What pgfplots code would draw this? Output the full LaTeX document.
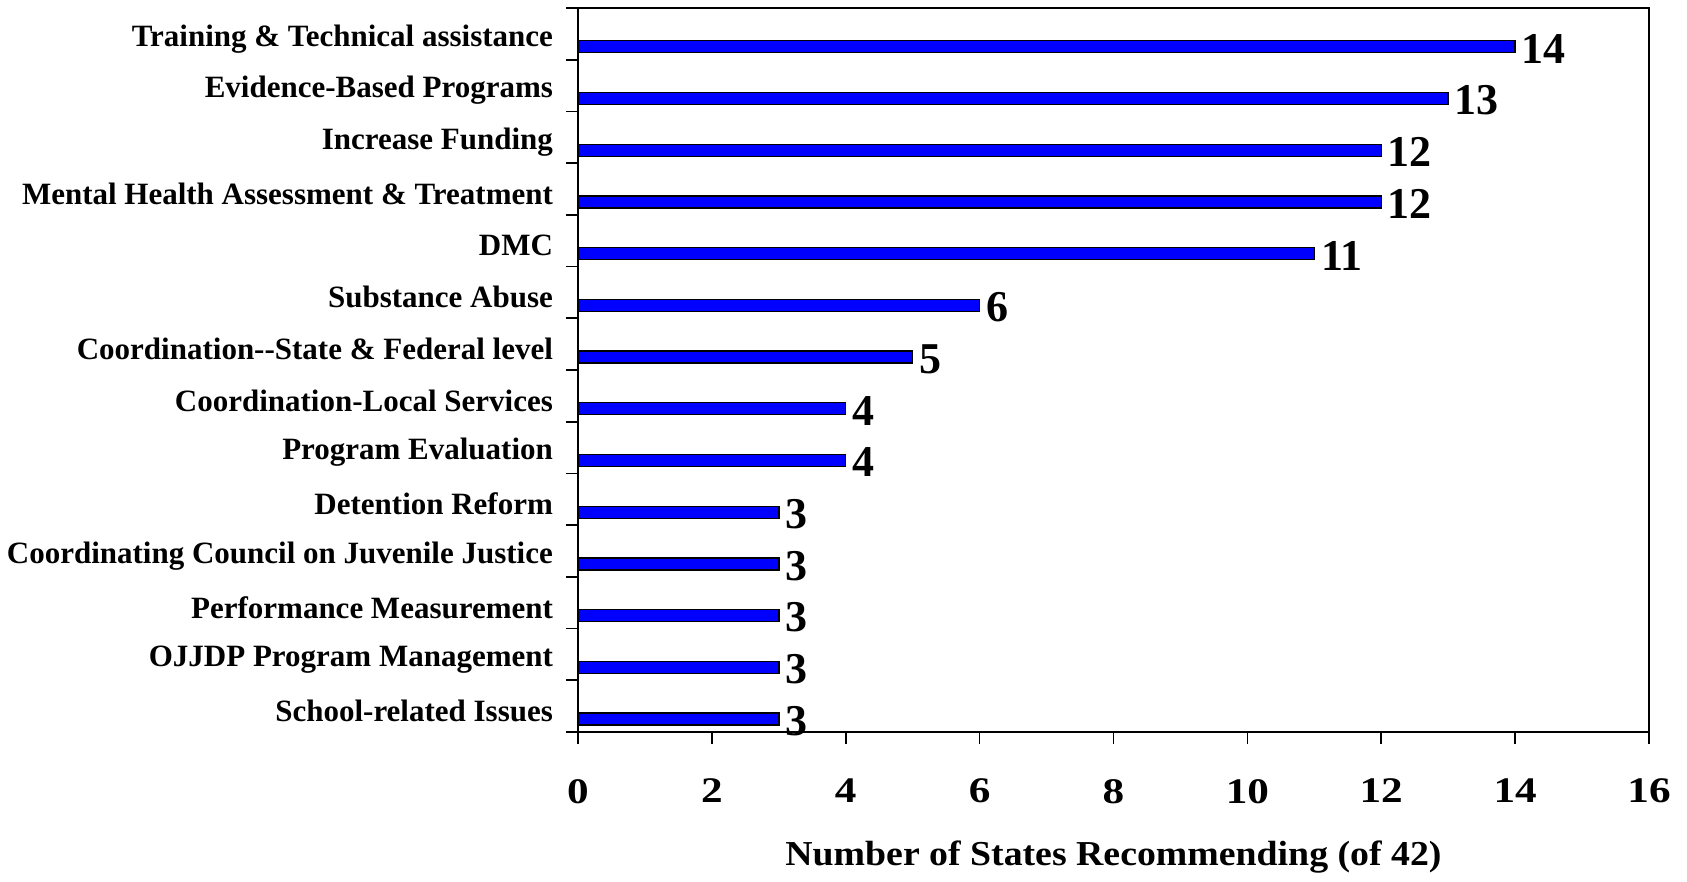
\documentclass[border=0pt]{standalone}
\usepackage{fontspec}
\setmainfont{Liberation Serif}
\newfontfamily\widefont[FakeStretch=1.2]{Liberation Serif}
\newfontfamily\titlefont[FakeStretch=1.08]{Liberation Serif}
\usepackage{pgfplots}
\pgfplotsset{compat=1.18}

\pgfplotstableread{
val pos
14 0.75
13 1.75
12 2.75
12 3.75
11 4.75
6 5.75
5 6.75
4 7.75
4 8.75
3 9.75
3 10.75
3 11.75
3 12.75
3 13.75
}\recs

\begin{document}
\begin{tikzpicture}
\begin{axis}[
    name=ax,
    scale only axis,
    width=535.5pt, height=362pt,
    xbar, bar width=6pt, bar shift=0pt,
    xmin=0, xmax=16,
    ymin=0, ymax=14, y dir=reverse,
    xtick={0,2,...,16},
    ytick={1,...,14},
    yticklabels={
        Training \& Technical assistance,
        Evidence-Based Programs,
        Increase Funding,
        Mental Health Assessment \& Treatment,
        DMC,
        Substance Abuse,
        Coordination-{}-State \& Federal level,
        Coordination-Local Services,
        Program Evaluation,
        Detention Reform,
        Coordinating Council on Juvenile Justice,
        Performance Measurement,
        OJJDP Program Management,
        School-related Issues},
    extra y ticks={0},
    extra y tick labels={},
    xtick pos=bottom, ytick pos=left,
    tick align=outside,
    major tick length=6pt,
    axis line style={line width=0.8pt},
    tick style={line width=0.8pt, black},
    /pgf/number format/assume math mode=true,
    yticklabel style={font=\fontsize{15.5}{17}\selectfont\bfseries, yshift=10.5pt, xshift=-3pt},
    xticklabel style={font=\widefont\fontsize{18}{20}\selectfont\bfseries, yshift=-14pt},
    xlabel={Number of States Recommending (of 42)},
    xlabel style={font=\titlefont\fontsize{17.5}{19}\selectfont\bfseries, yshift=-12pt},
    nodes near coords,
    nodes near coords style={font=\fontsize{22}{24}\selectfont\bfseries, anchor=west, inner sep=3pt, yshift=-1pt},
    clip=false,
]
\addplot[fill={rgb,255:red,0;green,0;blue,255}, draw=black, line width=0.7pt]
    table[x=val, y=pos] {\recs};
\end{axis}
\pgfresetboundingbox
\path ([shift={(-289pt,-75pt)}]ax.south west) rectangle ([shift={(19pt,4pt)}]ax.north east);
\end{tikzpicture}
\end{document}
